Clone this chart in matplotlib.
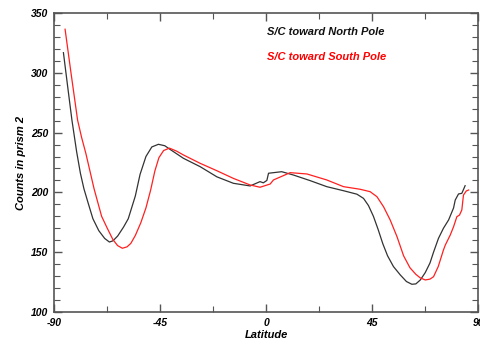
import matplotlib.pyplot as plt
from matplotlib.ticker import MultipleLocator

# S/C toward North Pole (black)
lat_n = [-86, -84.3, -82.4, -80.4, -78.8, -77.3, -75.5, -73.5, -71, -68.5, -66.5,
         -65, -63, -60.5, -58.5, -55.5, -53.5, -51, -48.5, -45.7, -43, -40.8,
         -35.1, -28, -20.9, -13.9, -6.8, -2.6, -1.2, 0.3, 1, 6.6, 11.6, 18.7,
         25.7, 32.8, 38.5, 41.3, 43.4, 45.5, 47.5, 49.5, 51.5, 54, 56.9, 59.5,
         61.8, 63.5, 65.4, 67.5, 69.5, 71, 73.1, 75.2, 77.4, 79.5, 80.2, 81.6,
         83, 84.4]
cnt_n = [316.8, 290, 260.5, 234, 216, 203, 191, 178, 168, 161.5, 158.5,
         159.5, 163.5, 171, 178, 197, 215, 230, 238, 240.2, 239, 236,
         228.5, 221.5, 213, 207.6, 205.4, 209, 208, 210, 216, 217.3, 214.5, 209.8,
         204.8, 201.4, 198.5, 195, 189, 180, 169, 157, 147, 138, 131, 125.5,
         123.2, 123.5, 126.8, 133, 141, 150, 161.6, 170, 177, 187, 193.6, 198.7,
         199.2, 205.6]

# S/C toward South Pole (red)
lat_s = [-85.3, -82.8, -80, -78.3, -76.5, -73, -69.8, -67.4, -65, -63, -61,
         -59, -57.4, -55.5, -53.2, -51, -49, -47.2, -45.5, -43.5, -41, -38,
         -35.1, -28, -20.9, -13.9, -6.8, -2.6, 1.7, 3.1, 10.2, 17.3, 25.7, 32.8,
         39.9, 44.1, 47, 49.8, 52.6, 55.5, 58.3, 61, 63.5, 65.4, 67.5, 69.5,
         71, 73, 75.2, 76, 78.1, 79.5, 80.9, 82, 83, 83.7, 84.9, 85.9]
cnt_s = [336.4, 300, 260.5, 246, 232.7, 203, 180, 170, 160.5, 155.5, 153.3,
         154.5, 157.4, 164, 174.5, 187, 202, 218, 229, 235, 237, 234.5,
         231.3, 224.3, 218.1, 211.7, 206.2, 204.3, 207, 210.4, 216.5, 215.4, 210.4, 204.8,
         202.6, 200.6, 196.4, 188, 177, 163, 147, 137, 131.5, 128.5, 126.8, 127.5,
         129.5, 138, 151.8, 156, 164.4, 171.3, 179.7, 181, 185.3, 197.8, 201.2, 202]

xticks = [-90, -45, 0, 45, 90]
xticklabels = ['-90', '-45', '0', '45', '90']
yticks = [100, 150, 200, 250, 300, 350]

plt.rcParams['font.family'] = ['Liberation Sans Narrow', 'Liberation Sans', 'DejaVu Sans']

fig = plt.figure(figsize=(4.8, 3.41), dpi=100)
ax = fig.add_axes([0.1125, 0.085, 0.884, 0.877])

ax.plot(lat_n, cnt_n, color='#333333', lw=0.9)
ax.plot(lat_s, cnt_s, color='#ff2020', lw=0.9)

ax.set_xlim(-90, 90)
ax.set_ylim(100, 350)
ax.set_xticks(xticks)
ax.set_xticklabels(xticklabels)
ax.set_yticks(yticks)
ax.xaxis.set_minor_locator(MultipleLocator(22.5))
ax.yaxis.set_minor_locator(MultipleLocator(10))
ax.tick_params(which='both', direction='in', top=True, right=True, color='#555555',
               labelsize=7.5, pad=4)
ax.tick_params(which='major', length=6, width=1)
ax.tick_params(which='minor', length=4, width=0.8)
for lab in ax.get_xticklabels() + ax.get_yticklabels():
    lab.set_fontstyle('italic')
    lab.set_fontweight('bold')
for s in ax.spines.values():
    s.set_color('#555555')
    s.set_linewidth(1.2)

ax.set_xlabel('Latitude', fontsize=8, fontstyle='italic', fontweight='bold', labelpad=2)
ax.set_ylabel('Counts in prism 2', fontsize=8, fontstyle='italic', fontweight='bold', labelpad=4)

ax.text(0.502, 0.936, 'S/C toward North Pole', transform=ax.transAxes, fontsize=8,
        fontstyle='italic', fontweight='bold', color='#111111', va='center')
ax.text(0.502, 0.853, 'S/C toward South Pole', transform=ax.transAxes, fontsize=8,
        fontstyle='italic', fontweight='bold', color='#ff0000', va='center')

fig.savefig('out.png', dpi=100)
